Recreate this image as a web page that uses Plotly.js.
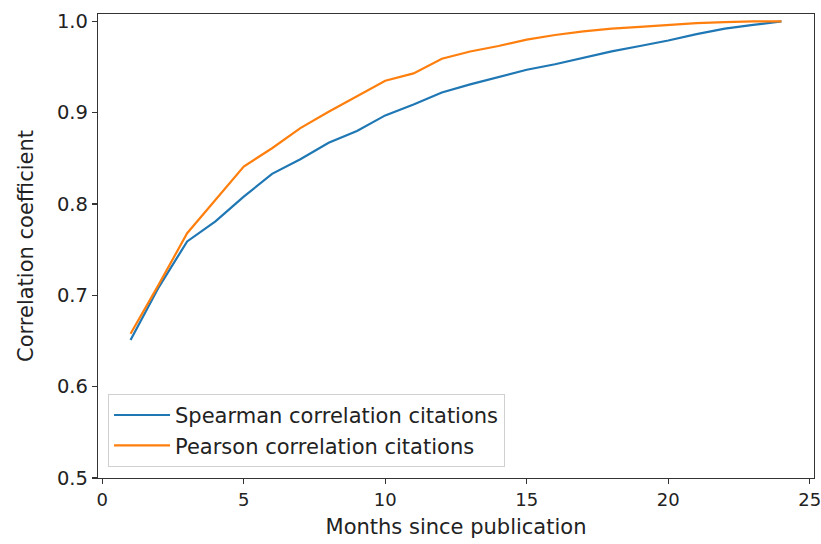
<!DOCTYPE html>
<html>
<head>
<meta charset="utf-8">
<script src="https://cdn.plot.ly/plotly-3.0.1.min.js"></script>
<style>html,body{margin:0;padding:0;background:#fff;}#chart{width:821px;height:544px;}</style>
</head>
<body>
<div id="chart"></div>
<script>
const months = [1,2,3,4,5,6,7,8,9,10,11,12,13,14,15,16,17,18,19,20,21,22,23,24];
const spearman = [0.651,0.709,0.759,0.781,0.808,0.833,0.849,0.867,0.880,0.897,0.909,0.922,0.931,0.939,0.947,0.953,0.960,0.967,0.973,0.979,0.986,0.992,0.996,1.000];
const pearson  = [0.658,0.712,0.768,0.804,0.841,0.861,0.883,0.901,0.918,0.935,0.943,0.959,0.967,0.973,0.980,0.985,0.989,0.992,0.994,0.996,0.998,0.999,1.000,1.000];
const seriesNames = ["Spearman correlation citations","Pearson correlation citations"];
const xTitle = "Months since publication";
const yTitle = "Correlation coefficient";

const font = {family: "DejaVu Sans", size: 21, color: "#222"};
const xTickFont = {family: "DejaVu Sans", size: 18, color: "#222"};
const yTickFont = {family: "DejaVu Sans", size: 19.5, color: "#222"};
const data = [
  {x: months, y: spearman, name: seriesNames[0], type: "scatter", mode: "lines", line: {color: "#1f77b4", width: 2.2}},
  {x: months, y: pearson, name: seriesNames[1], type: "scatter", mode: "lines", line: {color: "#ff7f0e", width: 2.2}}
];
const axisCommon = {showgrid: false, zeroline: false, showline: true, mirror: true, linecolor: "#333", linewidth: 1.2,
  ticks: "outside", ticklen: 5, tickwidth: 1.2, tickcolor: "#333", ticklabeloverflow: "allow"};
const layout = {
  width: 821, height: 544,
  margin: {l: 98, r: 7, t: 14, b: 66},
  paper_bgcolor: "#fff", plot_bgcolor: "#fff",
  font: font,
  showlegend: true,
  xaxis: Object.assign({}, axisCommon, {range: [-0.15, 25.15], tickvals: [0,5,10,15,20,25], ticktext: ["0","5","10","15","20","25"],
    tickfont: xTickFont, title: {text: xTitle, font: font, standoff: 10}}),
  yaxis: Object.assign({}, axisCommon, {range: [0.5, 1.008], tickvals: [0.5,0.6,0.7,0.8,0.9,1.0], ticktext: ["0.5","0.6","0.7","0.8","0.9","1.0"],
    tickfont: yTickFont, title: {text: yTitle, font: font, standoff: 17}}),
  legend: {x: 0.014, y: 0.024, xanchor: "left", yanchor: "bottom", bgcolor: "rgba(255,255,255,0.8)", bordercolor: "#d0d0d0", borderwidth: 1,
    font: font, tracegroupgap: 0, itemwidth: 56}
};
Plotly.newPlot("chart", data, layout, {displayModeBar: false, staticPlot: true});
</script>
</body>
</html>
